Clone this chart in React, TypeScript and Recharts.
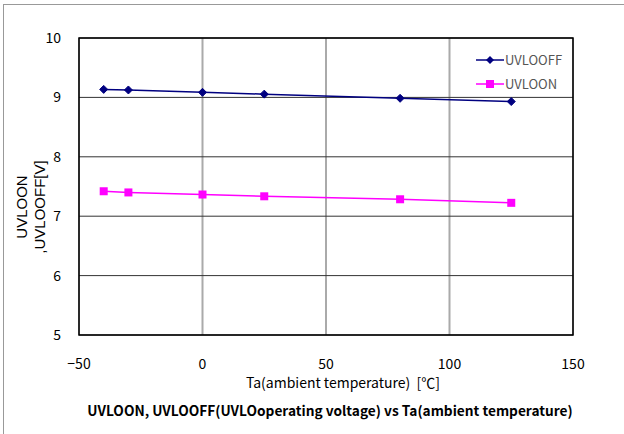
import React from "react";
import {
  LineChart,
  Line,
  XAxis,
  YAxis,
  CartesianGrid,
  ReferenceArea,
} from "recharts";

const temperatures = [-40, -30, 0, 25, 80, 125];
const uvloOff = [9.135, 9.125, 9.085, 9.055, 8.985, 8.93];
const uvloOn = [7.42, 7.4, 7.365, 7.335, 7.285, 7.225];
const xTicks = [-50, 0, 50, 100, 150];
const yTicks = [5, 6, 7, 8, 9, 10];
const seriesNames = ["UVLOOFF", "UVLOON"];

const data = temperatures.map((t, i) => ({ t, off: uvloOff[i], on: uvloOn[i] }));

const FONT = '"Noto Sans CJK JP", "Noto Sans", sans-serif';

const Diamond = (props: any) => {
  const { cx, cy } = props;
  if (cx == null || cy == null) return null;
  const r = 4;
  return (
    <polygon
      points={`${cx},${cy - r} ${cx + r},${cy} ${cx},${cy + r} ${cx - r},${cy}`}
      fill="#000080"
      stroke="#000080"
    />
  );
};

const Square = (props: any) => {
  const { cx, cy } = props;
  if (cx == null || cy == null) return null;
  return <rect x={cx - 4} y={cy - 4} width={8} height={8} fill="#FF00FF" />;
};

const fmtX = (v: number) => (v < 0 ? "\u2212" + Math.abs(v) : String(v));

export default function App() {
  return (
    <div
      style={{
        position: "absolute",
        left: 0,
        top: 0,
        width: 624,
        height: 434,
        background: "#fff",
        overflow: "hidden",
      }}
    >
      <div
        style={{
          position: "absolute",
          left: 3,
          top: 4,
          width: 640,
          height: 460,
          borderLeft: "1px solid #999",
          borderTop: "1px solid #999",
        }}
      />
      <LineChart
        width={624}
        height={434}
        data={data}
        margin={{ top: 38, right: 51, bottom: 69, left: 49 }}
      >
        <CartesianGrid horizontal={false} vertical={true} stroke="#aaa" strokeWidth={2} />
        <CartesianGrid horizontal={true} vertical={false} stroke="#333" strokeWidth={1} />
        <XAxis
          dataKey="t"
          type="number"
          domain={[-50, 150]}
          ticks={xTicks}
          tickFormatter={fmtX}
          axisLine={false}
          tickLine={false}
          height={30}
          tickMargin={18}
          tick={{ fill: "#000", fontSize: 14, fontFamily: FONT }}
          interval={0}
        />
        <YAxis
          type="number"
          domain={[5, 10]}
          ticks={yTicks}
          axisLine={false}
          tickLine={false}
          width={30}
          tickMargin={12}
          tick={{ fill: "#000", fontSize: 14, fontFamily: FONT }}
          interval={0}
        />
        <ReferenceArea
          x1={-50}
          x2={150}
          y1={5}
          y2={10}
          fill="none"
          fillOpacity={0}
          stroke="#000"
          strokeWidth={1.5}
          ifOverflow="visible"
        />
        <Line
          dataKey="off"
          name={seriesNames[0]}
          stroke="#000080"
          strokeWidth={1.5}
          dot={<Diamond />}
          isAnimationActive={false}
        />
        <Line
          dataKey="on"
          name={seriesNames[1]}
          stroke="#FF00FF"
          strokeWidth={1.5}
          dot={<Square />}
          isAnimationActive={false}
        />
      </LineChart>
      <svg
        width={110}
        height={50}
        style={{ position: "absolute", left: 476, top: 48, overflow: "visible" }}
      >
        <line x1={0} y1={12} x2={28} y2={12} stroke="#000080" strokeWidth={1.5} />
        <polygon points="14,8 18,12 14,16 10,12" fill="#000080" />
        <text x={29} y={17} fontFamily={FONT} fontSize={13} fill="#555">{seriesNames[0]}</text>
        <line x1={0} y1={36} x2={28} y2={36} stroke="#FF00FF" strokeWidth={1.5} />
        <rect x={10} y={32} width={8} height={8} fill="#FF00FF" />
        <text x={29} y={41} fontFamily={FONT} fontSize={13} fill="#555">{seriesNames[1]}</text>
      </svg>
      <div style={{ position: "absolute", left: 0, top: 200, width: 0, height: 0 }}>
        <div
          style={{
            position: "absolute",
            left: 31,
            top: 7,
            transform: "translate(-50%, -50%) rotate(-90deg)",
            whiteSpace: "nowrap",
            fontFamily: '"Liberation Sans", Arial, sans-serif',
            fontSize: 15,
            lineHeight: "18px",
            textAlign: "center",
            color: "#000",
          }}
        >
          UVLOON
          <br />
          ,UVLOOFF[V]
        </div>
      </div>
      <div
        style={{
          position: "absolute",
          left: 243,
          top: 372,
          width: 200,
          textAlign: "center",
          whiteSpace: "nowrap",
          fontFamily: FONT,
          fontSize: 14,
          color: "#000",
        }}
      >
        Ta(ambient temperature)&nbsp;&nbsp;[℃]
      </div>
      <div
        style={{
          position: "absolute",
          left: 0,
          top: 400,
          width: 660,
          textAlign: "center",
          whiteSpace: "nowrap",
          fontFamily: FONT,
          fontSize: 13.7,
          fontWeight: "bold",
          color: "#000",
        }}
      >
        UVLOON, UVLOOFF(UVLOoperating voltage) vs Ta(ambient temperature)
      </div>
    </div>
  );
}
